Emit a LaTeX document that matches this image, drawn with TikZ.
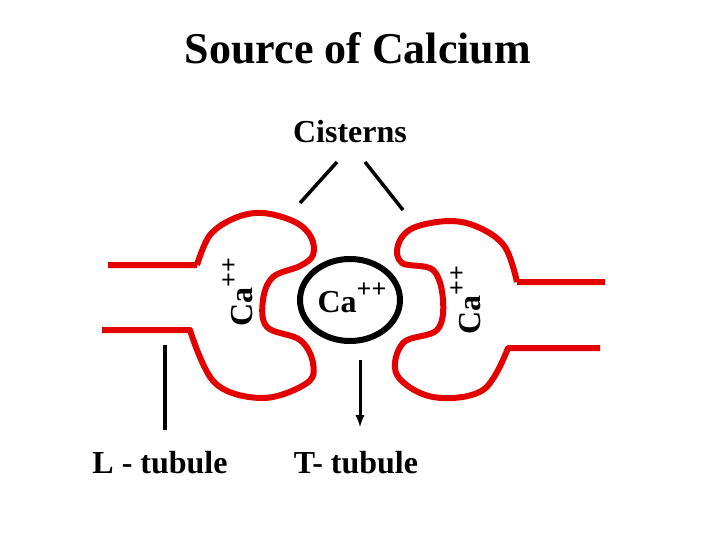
\documentclass[tikz,border=0pt]{standalone}
\usepackage{fontspec}
\setmainfont{Liberation Serif}
\usetikzlibrary{shapes.geometric}
\newcommand{\caion}{Ca\raisebox{0.45em}{\fontsize{26}{28}\selectfont ++}}
\begin{document}
\begin{tikzpicture}[x=1pt,y=-1pt,
 mem/.style={draw=red!90!black,line width=6pt,line join=round},
 blk/.style={draw=black,line width=6pt},
 lbl/.style={font=\bfseries\fontsize{32}{34}\selectfont}]
\useasboundingbox (0,0) rectangle (720,540);
\node[font=\bfseries\fontsize{44}{48}\selectfont] (title) at (358,48) {Source of Calcium};
\node[lbl] (cist) at (350,132) {Cisterns};
\draw[mem] (108,265) -- (197,265) plot[smooth,tension=0.6] coordinates {(197,265) (210,235) (235,218) (263,213) (295,222) (311,237) (313,255) (300,266) (273,277) (263,300) (267,327) (300,340) (313,363) (307,383) (263,398) (215,383) (190,330)} -- (102,330);
\draw[mem] (605,282) -- (517,282) plot[smooth,tension=0.6] coordinates {(517,282) (505,247) (480,228) (450,221) (413,228) (398,245) (402,263) (433,270) (443,300) (437,330) (403,343) (397,375) (433,397) (483,390) (508,348)} -- (600,348);
\node[blk,ellipse,minimum width=100pt,minimum height=82pt,inner sep=0pt] (ves) at (350,300) {};
\node[lbl] (ca) at (352,298) {\caion};
\node[lbl,rotate=90] (cal) at (238,292) {\caion};
\node[lbl,rotate=90] (car) at (466,300) {\caion};
\coordinate (c1) at (300,203); \coordinate (c2) at (337,162);
\coordinate (c3) at (365,162); \coordinate (c4) at (403,210);
\draw[line width=3.5pt] (c1) -- (c2);
\draw[line width=3.5pt] (c3) -- (c4);
\node[lbl] (lt) at (160,463) {L - tubule};
\node[lbl] (tt) at (356,463) {T- tubule};
\coordinate (l1) at (165,345); \coordinate (l2) at (165,430);
\draw[line width=3.5pt] (l1) -- (l2);
\coordinate (a1) at (360,360); \coordinate (a2) at (360,427);
\draw[line width=3pt,-latex] (a1) -- (a2);
\end{tikzpicture}
\end{document}
